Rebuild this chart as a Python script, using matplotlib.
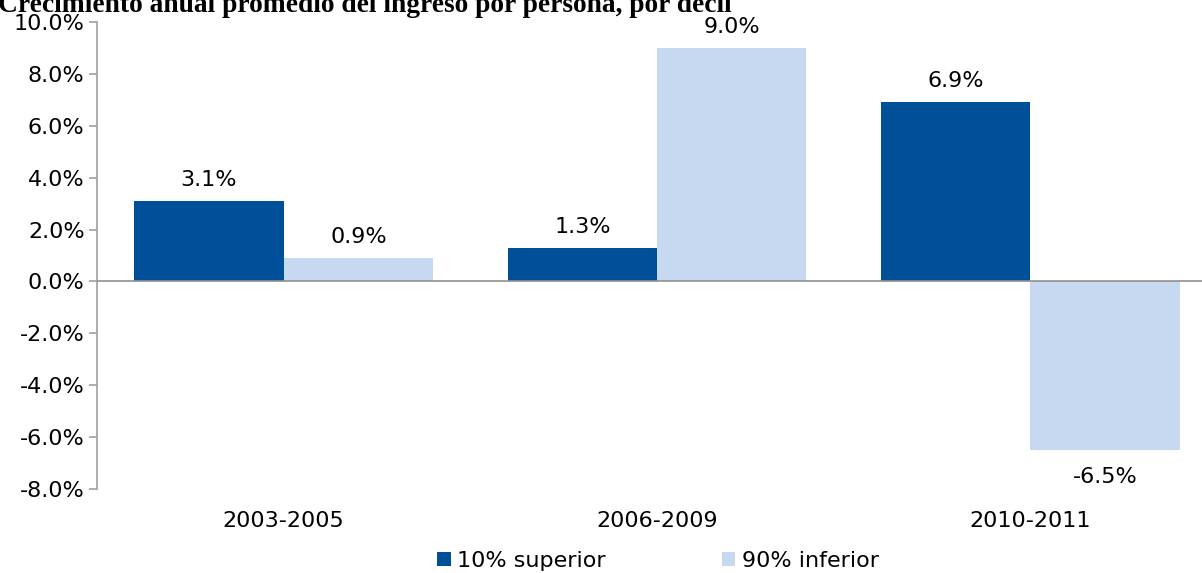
import matplotlib.pyplot as plt
import numpy as np

# data
periods = ["2003-2005", "2006-2009", "2010-2011"]
top10 = [3.1, 1.3, 6.9]
bottom90 = [0.9, 9.0, -6.5]
series_names = ["10% superior", "90% inferior"]
title = "Crecimiento anual promedio del ingreso por persona, por decil"

dark = "#004F99"
light = "#C6D9F1"
fs = 16

plt.rcParams["font.family"] = "DejaVu Sans"

fig = plt.figure(figsize=(12.02, 5.73), dpi=100)
W, H = 1202, 573
# axes: x from 97 px, y 10% at 22 px, -8% at 489 px
ax = fig.add_axes([97 / W, 1 - 489 / H, (1217 - 97) / W, (489 - 22) / H])

x = np.arange(len(periods))
bw = 0.4
b1 = ax.bar(x - bw / 2, top10, bw, color=dark, label=series_names[0])
b2 = ax.bar(x + bw / 2, bottom90, bw, color=light, label=series_names[1])

for bars in (b1, b2):
    for rect in bars:
        v = rect.get_height()
        cx = rect.get_x() + rect.get_width() / 2
        if v >= 0:
            ax.annotate(f"{v:.1f}%", (cx, v), xytext=(0, 8), textcoords="offset points",
                        ha="center", va="bottom", fontsize=fs)
        else:
            ax.annotate(f"{v:.1f}%", (cx, v), xytext=(0, -12), textcoords="offset points",
                        ha="center", va="top", fontsize=fs)

ax.set_ylim(-8, 10)
ax.set_xlim(-0.5, 2.5)
ax.set_yticks(np.arange(-8, 10.1, 2))
ax.set_yticklabels([f"{t:.1f}%" for t in np.arange(-8, 10.1, 2)], fontsize=fs)
ax.set_xticks(x)
ax.set_xticklabels(periods, fontsize=fs)
ax.tick_params(axis="x", length=0, pad=16)
ax.tick_params(axis="y", length=6, color="#A0A0A0", width=1.2, pad=3)

for s in ("top", "right", "bottom"):
    ax.spines[s].set_visible(False)
ax.spines["left"].set_color("#A0A0A0")
ax.spines["left"].set_linewidth(1.2)
ax.axhline(0, color="#909090", linewidth=1.2, zorder=3)

fig.legend(handles=[b1, b2], loc="center", bbox_to_anchor=(658 / W, 1 - 561 / H),
           ncol=2, frameon=False, fontsize=fs, handlelength=0.6, handleheight=0.6,
           handletextpad=0.3, columnspacing=5.2, borderpad=0)

# title sits partly above the top edge, as in the source image
fig.text(-2 / W, 1 - 12 / H, title, fontsize=19.8, fontweight="bold",
         family="Liberation Serif", ha="left", va="baseline")

fig.savefig("out.png", dpi=100)
